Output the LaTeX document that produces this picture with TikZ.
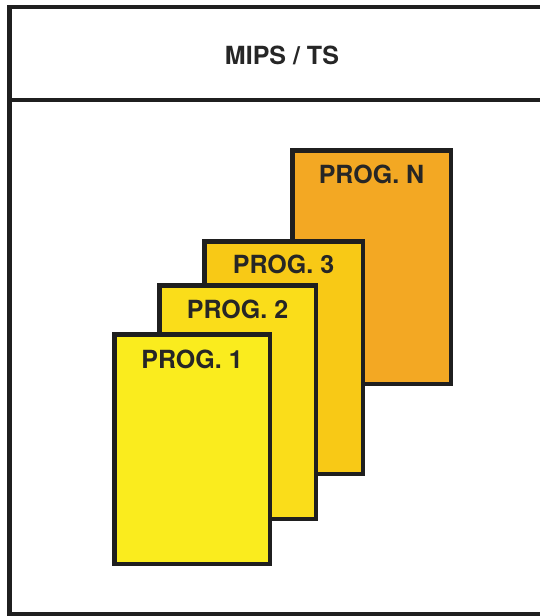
\documentclass[tikz,border=0pt]{standalone}
\usepackage{fontspec}
\setmainfont{TeX Gyre Heros}
\begin{document}
\begin{tikzpicture}[x=1pt,y=-1pt,
  frameline/.style={line width=4.5pt, draw=black!88},
  progbox/.style={rectangle, draw=black!88, line width=4.5pt, inner sep=0pt},
  progtext/.style={anchor=base, inner sep=0pt, text=black!85, font=\bfseries\fontsize{25}{30}\selectfont},
]
\definecolor{pone}{RGB}{250,236,30}
\definecolor{ptwo}{RGB}{250,221,26}
\definecolor{pthree}{RGB}{248,201,22}
\definecolor{pn}{RGB}{243,168,35}
\useasboundingbox (0,0) rectangle (540,616);
\fill[white] (0,0) rectangle (540,616);
% frame
\coordinate (tl) at (9.5,7);
\coordinate (tr) at (545,7);
\coordinate (bl) at (9.5,614);
\coordinate (br) at (545,614);
\coordinate (dl) at (9.5,100);
\coordinate (dr) at (545,100);
\draw[frameline] (tr) -- (tl) -- (bl) -- (br);
\draw[frameline] (dl) -- (dr);
\node[progtext] (title) at (282,64) {MIPS / TS};
% boxes
\node[progbox, fill=pn, minimum width=158.5pt, minimum height=233.5pt] (pN) at (371.5,267) {};
\node[progbox, fill=pthree, minimum width=158.5pt, minimum height=232.5pt] (p3) at (283.5,357.5) {};
\node[progbox, fill=ptwo, minimum width=156.5pt, minimum height=233.5pt] (p2) at (237.5,402) {};
\node[progbox, fill=pone, minimum width=155.5pt, minimum height=229.5pt] (p1) at (192,449) {};
\node[progtext] (tN) at ([yshift=-35pt]pN.north) {PROG. N};
\node[progtext] (t3) at ([yshift=-34pt]p3.north) {PROG. 3};
\node[progtext] (t2) at ([yshift=-35pt]p2.north) {PROG. 2};
\node[progtext] (t1) at ([yshift=-36pt]p1.north) {PROG. 1};
\end{tikzpicture}
\end{document}
